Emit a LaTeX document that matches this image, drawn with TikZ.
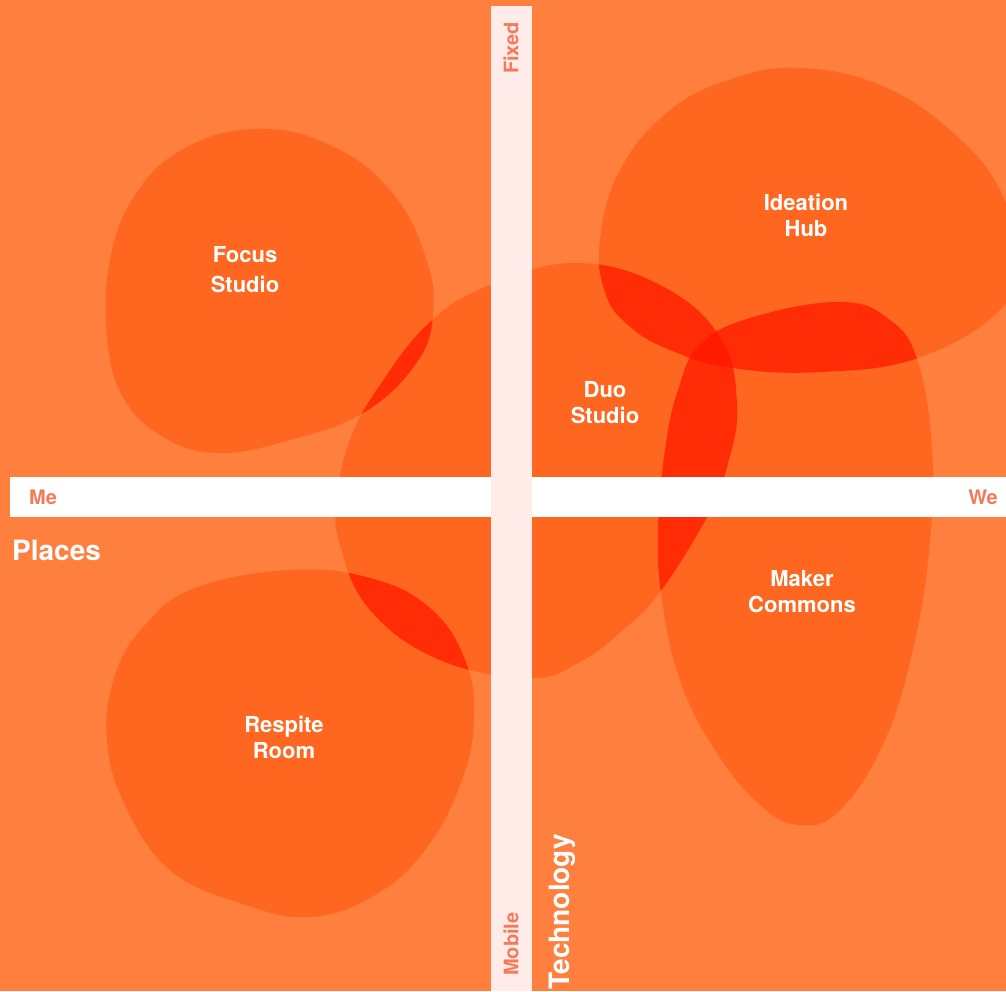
\documentclass[tikz,border=0pt]{standalone}
\usepackage{fontspec}
\setmainfont{TeX Gyre Heros}
\begin{document}
\begin{tikzpicture}[x=1pt,y=-1pt,
  blobtext/.style={text=white,font=\bfseries\fontsize{22}{26}\selectfont,align=center,inner sep=0pt},
  axistext/.style={text=axiscol,font=\bfseries\fontsize{20}{24}\selectfont,inner sep=0pt},
  titletext/.style={text=white,font=\bfseries\fontsize{28}{32}\selectfont,inner sep=0pt}]
\definecolor{bgcol}{HTML}{FF7F3F}
\definecolor{onecol}{HTML}{FF6620}
\definecolor{twocol}{HTML}{FF2C05}
\definecolor{threecol}{HTML}{FF1A00}
\definecolor{vbarcol}{HTML}{FFEBE7}
\definecolor{axiscol}{HTML}{F47A5C}
\def\focuspath{plot[smooth cycle,tension=0.7] coordinates {(257,129) (330,145) (390,190) (425,255) (433,315) (415,365) (363,413) (290,440) (217,453) (160,435) (122,395) (107,335) (110,260) (135,195) (185,148)}}
\def\duopath{plot[smooth cycle,tension=0.7] coordinates {(575,263) (660,285) (720,337) (737,405) (727,467) (707,517) (660,592) (623,630) (580,662) (530,678) (440,660) (370,610) (340,545) (337,500) (350,440) (380,385) (430,322) (490,285)}}
\def\respitepath{plot[smooth cycle,tension=0.7] coordinates {(290,570) (370,578) (430,608) (465,660) (474,720) (460,785) (425,850) (375,895) (310,917) (240,903) (170,870) (125,805) (107,740) (115,675) (145,625) (195,588)}}
\def\ideationpath{plot[smooth cycle,tension=0.7] coordinates {(800,68) (880,85) (950,130) (1000,190) (1015,260) (1000,310) (918,358) (820,372) (733,368) (670,350) (628,325) (605,292) (600,240) (620,170) (670,110) (735,78)}}
\def\makerpath{plot[smooth cycle,tension=0.7] coordinates {(840,302) (890,320) (918,362) (932,450) (930,540) (915,640) (885,740) (840,810) (800,825) (760,805) (715,750) (680,680) (662,600) (658,530) (665,450) (678,390) (700,345) (750,318)}}
\useasboundingbox (0,0) rectangle (1006,991);
\clip (0,0) rectangle (1006,991);
\fill[bgcol] (0,0) rectangle (1006,991);
% single blobs
\fill[onecol] \focuspath;
\fill[onecol] \duopath;
\fill[onecol] \respitepath;
\fill[onecol] \ideationpath;
\fill[onecol] \makerpath;
% double overlaps
\begin{scope}\clip \duopath; \fill[twocol] \focuspath; \end{scope}
\begin{scope}\clip \duopath; \fill[twocol] \respitepath; \end{scope}
\begin{scope}\clip \duopath; \fill[twocol] \ideationpath; \end{scope}
\begin{scope}\clip \duopath; \fill[twocol] \makerpath; \end{scope}
\begin{scope}\clip \ideationpath; \fill[twocol] \makerpath; \end{scope}
% triple overlap
\begin{scope}\clip \duopath; \clip \ideationpath; \fill[threecol] \makerpath; \end{scope}
% bars
\fill[white] (10,477) rectangle (1006,517);
\fill[vbarcol] (490.5,6) rectangle (531.5,991);
% labels
\node[blobtext,font=\bfseries\fontsize{22}{30}\selectfont] (focus) at (245,270) {Focus\\Studio};
\node[blobtext] (ideation) at (806,215) {Ideation\\Hub};
\node[blobtext] (duo) at (605,403) {Duo\\Studio};
\node[blobtext] (maker) at (802,592) {Maker\\Commons};
\node[blobtext] (respite) at (284,737) {Respite\\Room};
\node[axistext] (me) at (43,497) {Me};
\node[axistext] (we) at (983,497) {We};
\node[axistext,rotate=90] (fixed) at (511,48) {Fixed};
\node[axistext,rotate=90] (mobile) at (511,944) {Mobile};
\node[titletext,anchor=west] (places) at (12,550) {Places};
\node[titletext,rotate=90] (tech) at (562,912) {Technology};
\end{tikzpicture}
\end{document}
